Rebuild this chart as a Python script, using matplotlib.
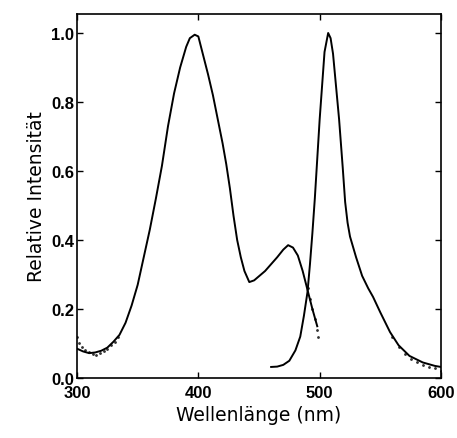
#!/usr/bin/env python

import numpy as np
import matplotlib
matplotlib.use("Agg")
from matplotlib import pyplot as plt

# excitation spectrum (solid line)
exc_nm = [300, 305, 310, 315, 320, 325, 330, 335, 340, 345, 350, 355, 360, 365,
          370, 375, 380, 385, 390, 393, 397, 400, 404, 408, 412, 416, 420, 423,
          426, 429, 432, 435, 438, 442, 446, 450, 455, 460, 465, 470, 474, 478,
          482, 486, 490, 494, 498]
exc_int = [0.085, 0.077, 0.072, 0.074, 0.079, 0.088, 0.105, 0.125, 0.16, 0.21,
           0.27, 0.35, 0.43, 0.52, 0.615, 0.73, 0.825, 0.9, 0.96, 0.985, 0.995,
           0.99, 0.935, 0.88, 0.82, 0.75, 0.68, 0.62, 0.55, 0.47, 0.4, 0.35,
           0.31, 0.278, 0.283, 0.295, 0.31, 0.33, 0.35, 0.372, 0.385, 0.378,
           0.355, 0.31, 0.255, 0.2, 0.15]

# excitation, measured points (dots)
exc_dot_nm = [300, 302, 304, 307, 310, 313, 316, 319, 322, 325, 328, 331, 334,
              490, 492, 494, 496, 498, 499]
exc_dot_int = [0.12, 0.1, 0.09, 0.082, 0.075, 0.07, 0.068, 0.072, 0.078, 0.085,
               0.095, 0.105, 0.12, 0.26, 0.23, 0.2, 0.17, 0.14, 0.12]

# emission spectrum
em_nm = [460, 465, 470, 475, 480, 484, 487, 490, 492, 494, 496, 500, 504, 507,
         509, 511, 516, 519, 521, 523, 525, 530, 535, 540, 544, 550, 558, 565,
         574, 585, 595, 600]
em_int = [0.032, 0.033, 0.038, 0.05, 0.08, 0.12, 0.18, 0.25, 0.33, 0.42, 0.52,
          0.75, 0.945, 1.0, 0.985, 0.94, 0.75, 0.61, 0.51, 0.45, 0.41, 0.35,
          0.296, 0.26, 0.235, 0.19, 0.133, 0.095, 0.064, 0.045, 0.035, 0.032]

em_dot_nm = [560, 565, 570, 575, 580, 585, 590, 595, 600]
em_dot_int = [0.12, 0.09, 0.07, 0.055, 0.045, 0.038, 0.033, 0.028, 0.02]

xticks = [300, 400, 500, 600]
yticks = [0.0, 0.2, 0.4, 0.6, 0.8, 1.0]

fig = plt.figure(figsize=(4.57, 4.39), dpi=100)
ax = fig.add_axes([0.1685, 0.1367, 0.7965, 0.8291])

ax.plot(exc_dot_nm, exc_dot_int, linestyle='none', marker='.', markersize=2,
        color='#333333')
ax.plot(em_dot_nm, em_dot_int, linestyle='none', marker='.', markersize=2,
        color='#333333')
ax.plot(exc_nm, exc_int, color='black', linewidth=1.4)
ax.plot(em_nm, em_int, color='black', linewidth=1.4)

ax.set_xlim(300, 600)
ax.set_ylim(0, 1.055)
ax.set_xticks(xticks)
ax.set_yticks(yticks)
ax.set_yticklabels(['%.1f' % v for v in yticks])

ax.tick_params(direction='in', length=4, width=1, top=True, right=True)
ax.tick_params(axis='x', pad=5)
ax.tick_params(axis='y', pad=2)
for lab in ax.get_xticklabels() + ax.get_yticklabels():
	lab.set_fontfamily('Liberation Sans')
	lab.set_fontweight('bold')
	lab.set_fontsize(12)
for sp in ax.spines.values():
	sp.set_linewidth(1.2)

ax.set_xlabel('Wellenlänge (nm)', fontsize=13.5, family='DejaVu Sans',
              labelpad=4)
ax.set_ylabel('Relative Intensität', fontsize=13.5, family='DejaVu Sans',
              labelpad=4)

plt.savefig('out.png', dpi=100)
